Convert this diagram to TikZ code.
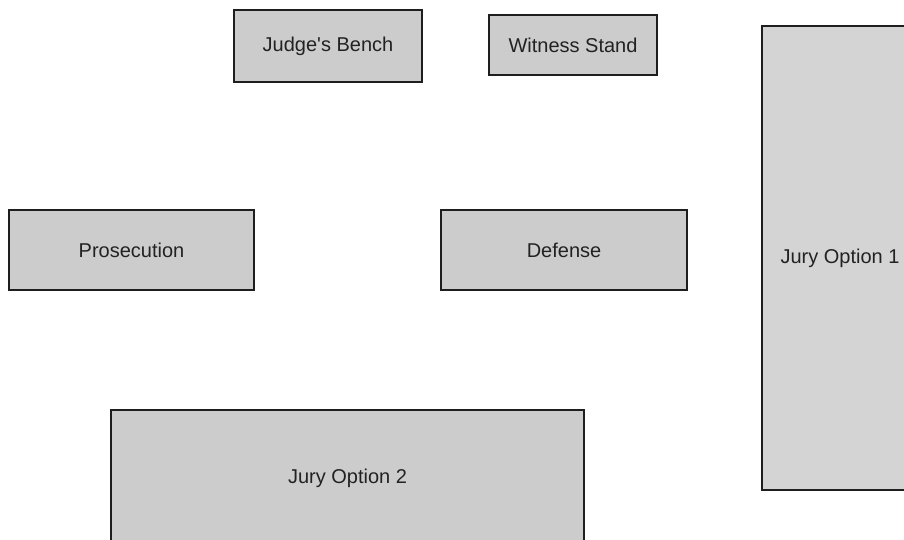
\documentclass[tikz,border=0pt]{standalone}
\usepackage{fontspec}
\setmainfont{Liberation Sans}
\definecolor{boxfill}{HTML}{CCCCCC}
\definecolor{boxfillb}{HTML}{D4D4D4}
\definecolor{edge}{HTML}{1E1E1E}
\definecolor{txt}{HTML}{222222}
\begin{document}
\begin{tikzpicture}[x=1pt,y=-1pt,
  roombox/.style={draw=edge,line width=1.6pt,fill=boxfill,inner sep=0pt,
    font=\fontsize{20}{23}\selectfont,text=txt},
]
\useasboundingbox (0,0) rectangle (904,540);
\clip (0,0) rectangle (904,540);
\node[roombox,minimum width=188pt,minimum height=72pt] (judge) at (328,46) {Judge\textquotesingle s Bench};
\node[roombox,minimum width=168pt,minimum height=60pt] (witness) at (573,45) {Witness Stand};
\node[roombox,minimum width=245pt,minimum height=80pt] (pros) at (131.5,250) {Prosecution};
\node[roombox,minimum width=246pt,minimum height=80pt] (def) at (564,250) {Defense};
\node[roombox,fill=boxfillb,minimum width=156pt,minimum height=464pt] (jury1) at (840,258) {\raisebox{-4pt}{Jury Option 1}};
\node[roombox,minimum width=473pt,minimum height=136pt] (jury2) at (347.5,478) {\raisebox{-2pt}{Jury Option 2}};
\end{tikzpicture}
\end{document}
